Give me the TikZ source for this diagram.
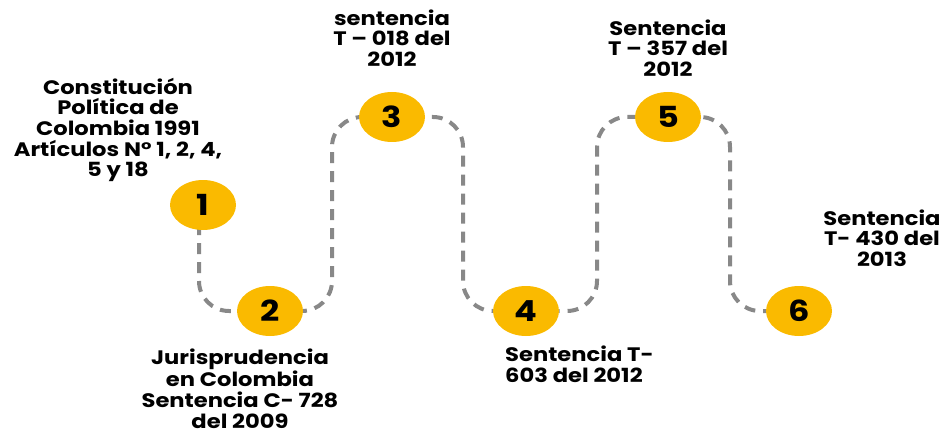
\documentclass[tikz,border=0pt]{standalone}
\usepackage{fontspec}
\setmainfont{Poppins}[BoldFeatures={FakeStretch=1.16}]
\usetikzlibrary{shapes.geometric,backgrounds}
\definecolor{dotyellow}{RGB}{250,186,0}
\definecolor{pathgray}{RGB}{136,136,136}
\begin{document}
\begin{tikzpicture}[x=1pt,y=-1pt,
  num/.style={ellipse,fill=dotyellow,minimum width=66pt,minimum height=50pt,inner sep=0pt,
    font=\fontsize{29}{29}\selectfont\bfseries},
  lbl/.style={align=center,font=\fontsize{19.5}{20.7}\selectfont\bfseries,inner sep=0pt},
  conn/.style={draw=pathgray,line width=4pt,dash pattern=on 11pt off 8pt,rounded corners=30pt}]
\useasboundingbox (0,0) rectangle (945,433);
\node[num] (n1) at (203,205) {1};
\node[num] (n2) at (270,311) {2};
\node[num] (n3) at (392,117) {3};
\node[num] (n4) at (526,311) {4};
\node[num] (n5) at (668,117) {5};
\node[num] (n6) at (799,311) {6};
\coordinate (v1) at (199,0);
\coordinate (v2) at (332,0);
\coordinate (v3) at (463,0);
\coordinate (v4) at (597,0);
\coordinate (v5) at (730,0);
\begin{pgfonlayer}{background}
\draw[conn] (v1 |- n1) |- (n2.center) -| (v2 |- n3) -- (n3.center) -| (v3 |- n4) -- (n4.center) -| (v4 |- n5) -- (n5.center) -| (v5 |- n6) -- (n6.center);
\end{pgfonlayer}
\node[lbl] (t1) at (118,130) {Constitución\\Política de\\Colombia 1991\\Artículos N° 1, 2, 4,\\5 y 18};
\node[lbl,anchor=north] (t2) at (240,349) {Jurisprudencia\\en Colombia\\Sentencia C- 728\\del 2009};
\node[lbl] (t3) at (392,38) {sentencia\\T – 018 del\\2012};
\node[lbl,align=left,anchor=north west] (t4) at (505,346) {Sentencia T-\\603 del 2012};
\node[lbl] (t5) at (668,48) {Sentencia\\T – 357 del\\2012};
\node[lbl] (t6) at (882,238) {Sentencia\\T- 430 del\\2013};
\end{tikzpicture}
\end{document}
